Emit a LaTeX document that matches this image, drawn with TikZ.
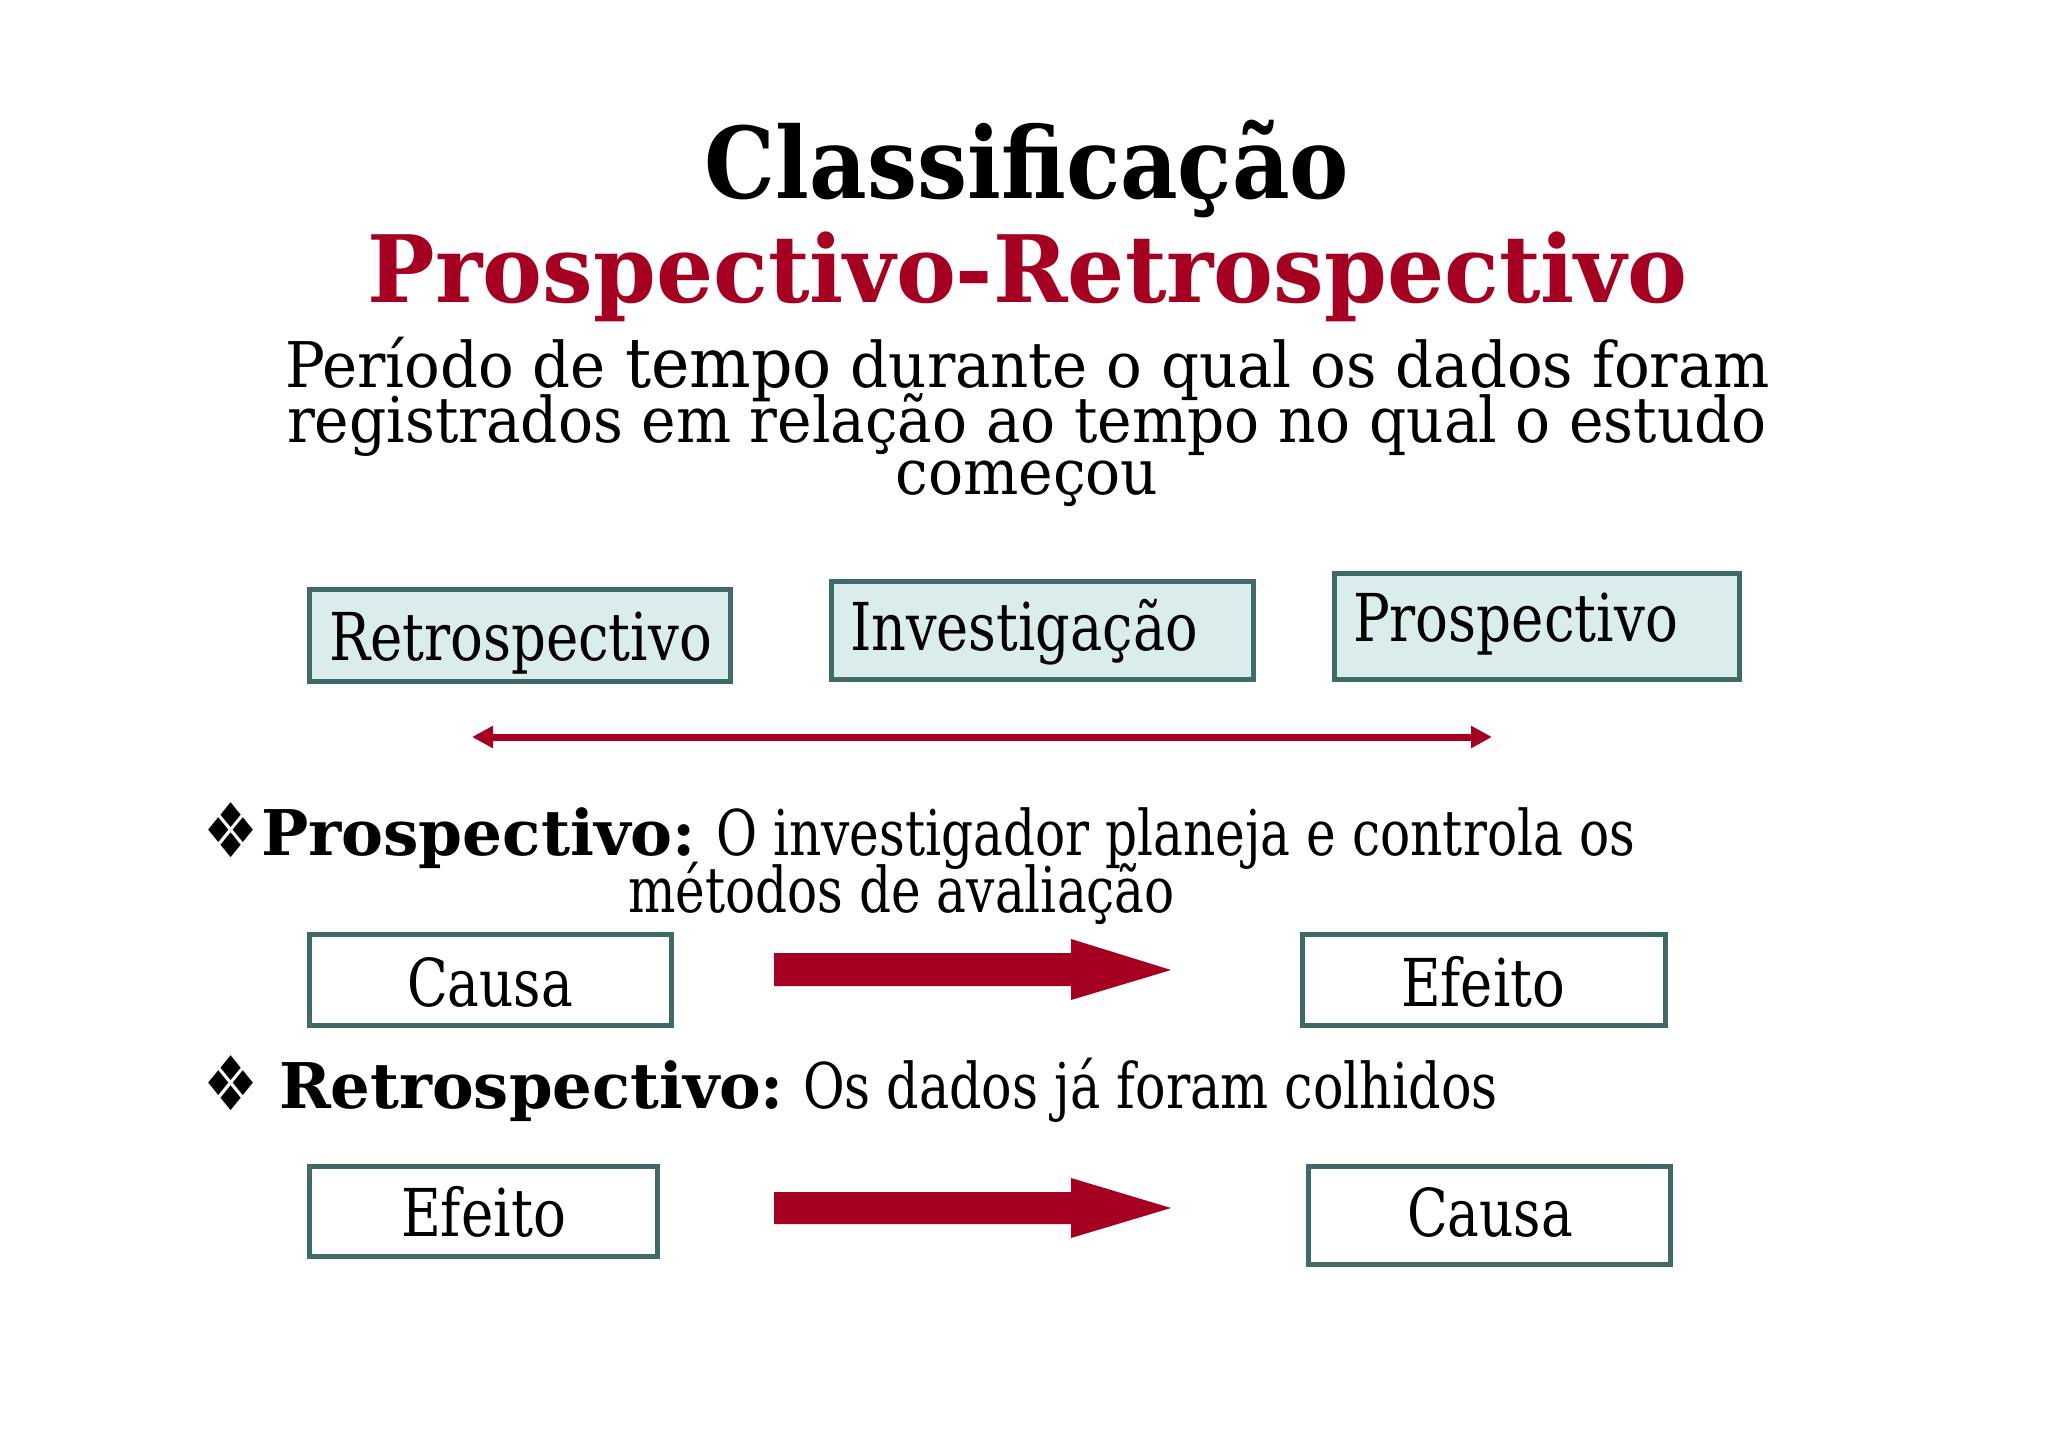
\documentclass[tikz,border=0pt]{standalone}
\usepackage{fontspec}
\usepackage{graphicx}
\setmainfont{DejaVu Serif}
\newfontfamily\symfont{DejaVu Sans}
\usetikzlibrary{arrows.meta}
\definecolor{tred}{HTML}{A50021}
\definecolor{tborder}{HTML}{3E6B67}
\definecolor{tfill}{HTML}{DAECEC}
\newcommand{\fitw}[2]{\resizebox{#1}{\height}{#2}}
\newcommand{\fsz}[1]{\fontsize{#1}{#1}\selectfont}
\tikzset{
  txt/.style={inner sep=0pt, outer sep=0pt, anchor=base west},
  ctxt/.style={inner sep=0pt, outer sep=0pt, anchor=base},
  hilite/.style={draw=tborder, line width=5pt, fill=tfill, inner sep=0pt},
  plain/.style={draw=tborder, line width=5pt, fill=white, inner sep=0pt},
  bigarrow/.style={fill=tred, draw=none},
  bullet/.style={inner sep=0pt, outer sep=0pt}
}
\begin{document}
\begin{tikzpicture}[x=1pt,y=-1pt]
\useasboundingbox[fill=white] (0,0) rectangle (2048,1447);

% title
\node[ctxt] (title) at (1027,199) {\fitw{644pt}{\fsz{99}\bfseries Classificação}};
\node[ctxt, text=tred] (subtitle) at (1027.5,303) {\fitw{1319pt}{\fsz{93}\bfseries Prospectivo-Retrospectivo}};

% paragraph
\node[txt] (p1) at (285,387) {\fitw{1485pt}{\fsz{63}Período de {\fsz{69}tempo} durante o qual os dados foram}};
\node[txt] (p2) at (287,442) {\fitw{1480pt}{\fsz{63}registrados em relação ao tempo no qual o estudo}};
\node[ctxt] (p3) at (1027,494) {\fitw{263pt}{\fsz{63}começou}};

% top boxes
\node[hilite, minimum width=421pt, minimum height=92pt] (retrobox) at (520,635.5) {};
\node[hilite, minimum width=422pt, minimum height=98pt] (invbox) at (1042.5,630.5) {};
\node[hilite, minimum width=405pt, minimum height=106pt] (prosbox) at (1537,626.5) {};
\node[txt] (retrotxt) at (329,660) {\fitw{383pt}{\fsz{66}Retrospectivo}};
\node[txt] (invtxt) at (850,650) {\fitw{348pt}{\fsz{66}Investigação}};
\node[txt] (prostxt) at (1353,641) {\fitw{325pt}{\fsz{66}Prospectivo}};

% double arrow
\coordinate (aL) at (472,737);
\coordinate (aR) at (1492,737);
\draw[tred, line width=7pt, {Triangle[length=21pt,width=21pt]}-{Triangle[length=21pt,width=21pt]}] (aL) -- (aR);

% bullet 1
\node[bullet] (d1) at (231,830) {\resizebox*{55pt}{55pt}{\symfont ❖}};
\node[txt] (b1bold) at (261,855) {\fitw{435pt}{\fsz{63}\bfseries Prospectivo:}};
\node[txt] (b1reg) at (716,855) {\fitw{919pt}{\fsz{63}O investigador planeja e controla os}};
\node[txt] (b1reg2) at (628,912) {\fitw{547pt}{\fsz{63}métodos de avaliação}};

% row 1 boxes
\node[plain, minimum width=362pt, minimum height=91pt] (causa1) at (490.5,980) {};
\node[plain, minimum width=363pt, minimum height=91pt] (efeito1) at (1484,980) {};
\node[txt] (causa1t) at (407,1006) {\fitw{166pt}{\fsz{66}Causa}};
\node[txt] (efeito1t) at (1401,1006) {\fitw{164pt}{\fsz{66}Efeito}};
\fill[bigarrow] (774,953) -- (1071,953) -- (1071,939) -- (1171,970) -- (1071,1000) -- (1071,986) -- (774,986) -- cycle;

% bullet 2
\node[bullet] (d2) at (231,1083) {\resizebox*{55pt}{55pt}{\symfont ❖}};
\node[txt] (b2bold) at (279,1108) {\fitw{505pt}{\fsz{63}\bfseries Retrospectivo:}};
\node[txt] (b2reg) at (803,1108) {\fitw{695pt}{\fsz{63}Os dados já foram colhidos}};

% row 2 boxes
\node[plain, minimum width=348pt, minimum height=90pt] (efeito2) at (483.5,1211.5) {};
\node[plain, minimum width=362pt, minimum height=98pt] (causa2) at (1489.5,1215.5) {};
\node[txt] (efeito2t) at (401,1236) {\fitw{165pt}{\fsz{66}Efeito}};
\node[txt] (causa2t) at (1407,1236) {\fitw{166pt}{\fsz{66}Causa}};
\fill[bigarrow] (774,1192) -- (1071,1192) -- (1071,1178) -- (1171,1208) -- (1071,1238) -- (1071,1224) -- (774,1224) -- cycle;
\end{tikzpicture}
\end{document}
